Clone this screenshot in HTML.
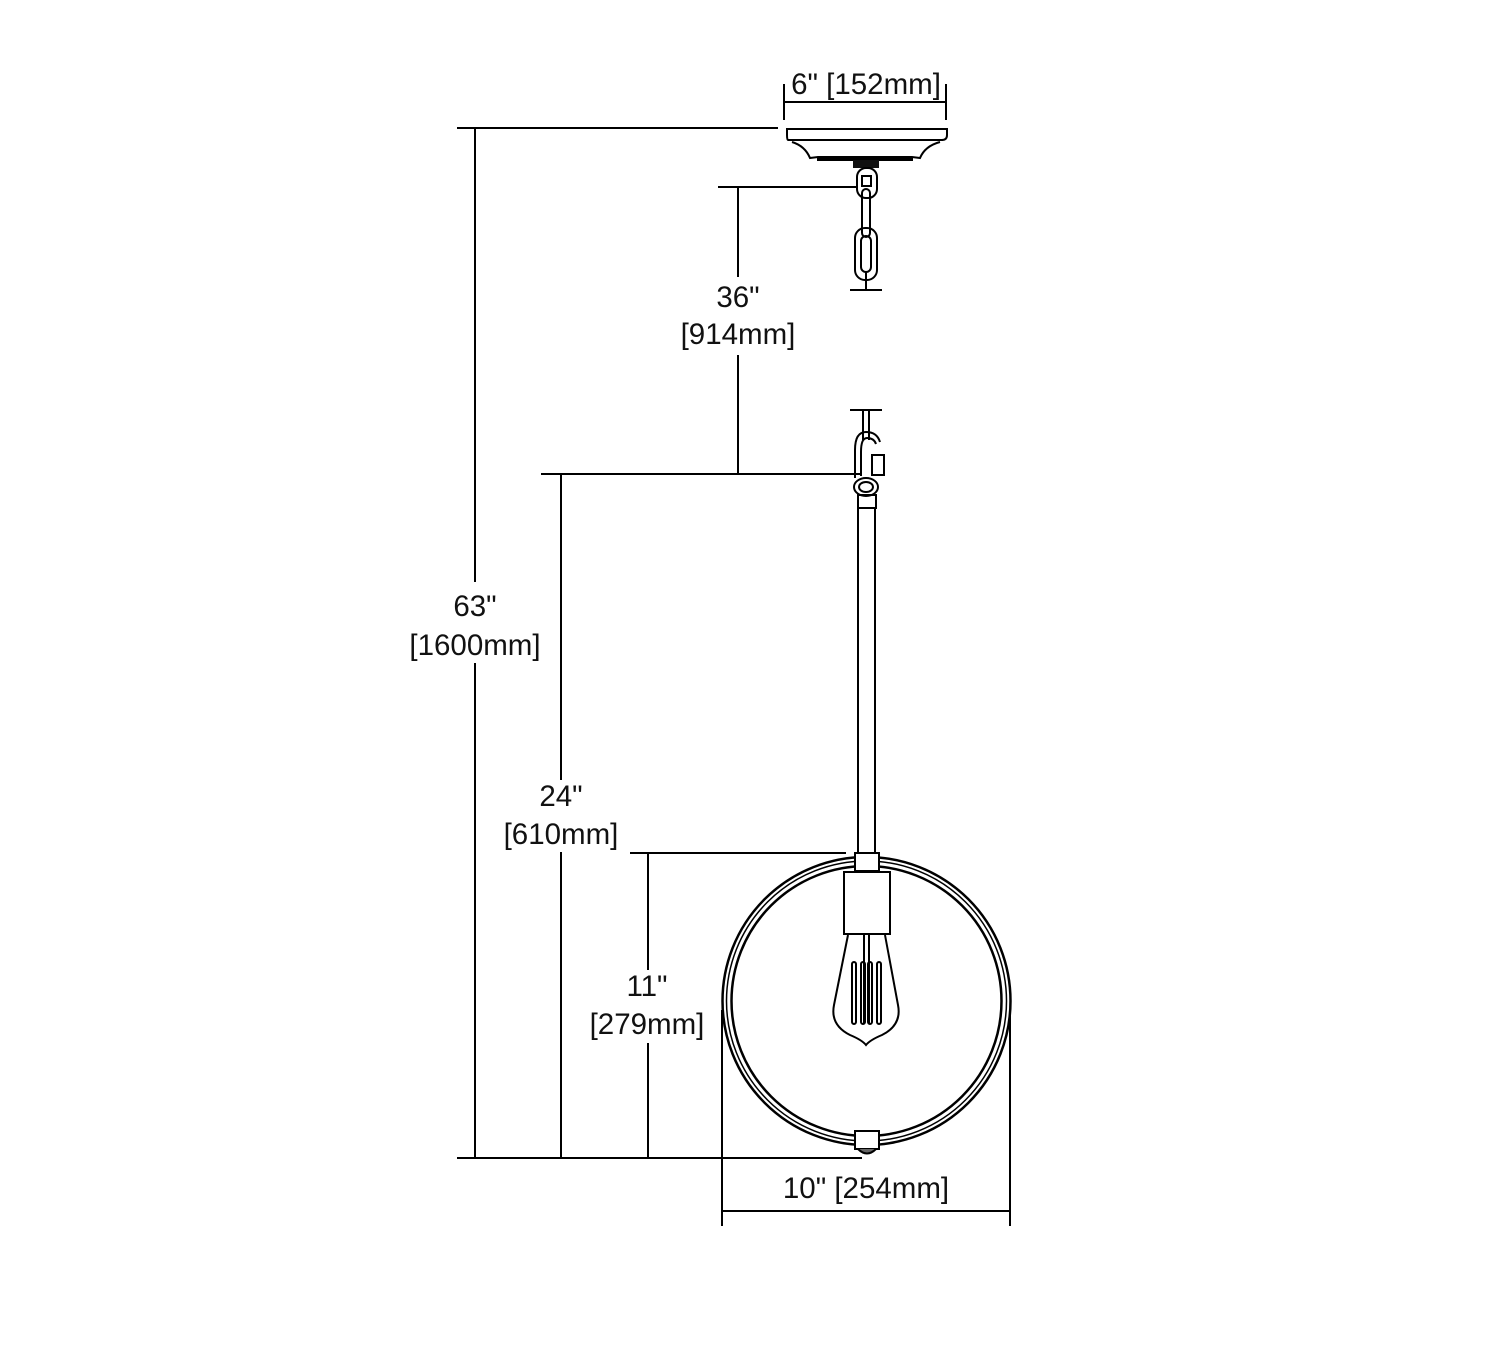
<!DOCTYPE html>
<html><head><style>
body{margin:0;background:#fff}
svg{display:block}
text{font-family:"Liberation Sans",sans-serif;font-size:29.5px;fill:#111;text-anchor:middle}
</style></head><body>
<svg width="1500" height="1365" viewBox="0 0 1500 1365" xmlns="http://www.w3.org/2000/svg">
<g stroke="#000" stroke-width="2" fill="none">
<line x1="457" y1="128" x2="778" y2="128"/>
<line x1="475" y1="128" x2="475" y2="582"/>
<line x1="475" y1="663" x2="475" y2="1158"/>
<line x1="457" y1="1158" x2="862" y2="1158"/>
<line x1="718" y1="187" x2="858" y2="187"/>
<line x1="738" y1="187" x2="738" y2="277"/>
<line x1="738" y1="355" x2="738" y2="474"/>
<line x1="541" y1="474" x2="862" y2="474"/>
<line x1="561" y1="474" x2="561" y2="780"/>
<line x1="561" y1="852" x2="561" y2="1158"/>
<line x1="630" y1="853" x2="846" y2="853"/>
<line x1="648" y1="853" x2="648" y2="970"/>
<line x1="648" y1="1043" x2="648" y2="1158"/>
<line x1="722" y1="1211" x2="1010" y2="1211"/>
<line x1="722" y1="1010" x2="722" y2="1226"/>
<line x1="1010" y1="1010" x2="1010" y2="1226"/>
<line x1="784" y1="102" x2="946" y2="102"/>
<line x1="784" y1="84" x2="784" y2="120"/>
<line x1="946" y1="84" x2="946" y2="120"/>
<path d="M787 129 H947 V135 Q947 140 942 140 H788 Q787 140 787 135 Z"/>
<line x1="790" y1="140" x2="943" y2="140"/>
<path d="M792 142 Q805 146 810 158 L818 157 H912 L920 158 Q925 146 940 142"/>
<line x1="818" y1="158" x2="912" y2="158"/>
<path d="M818 158 V160 H912 V158"/>
</g>
<rect x="853" y="160" width="26" height="8" fill="#111"/>
<g stroke="#000" stroke-width="2" fill="none">
<rect x="857" y="168" width="20" height="30" rx="9"/>
<rect x="862" y="176" width="9" height="10"/>
<rect x="862" y="189" width="8" height="48" rx="4"/>
<rect x="855" y="228" width="22" height="52" rx="10"/>
<rect x="861" y="236" width="10" height="36" rx="5"/>
<line x1="866" y1="272" x2="866" y2="290"/>
<line x1="850" y1="290" x2="882" y2="290"/>
<line x1="850" y1="410" x2="882" y2="410"/>
<line x1="863" y1="410" x2="863" y2="440"/>
<line x1="869" y1="410" x2="869" y2="440"/>
<path d="M855 478 V450 Q855 432 866 432 Q877 432 880 442"/>
<path d="M861 476 V452 Q861 438 867 438 Q874 438 876 444"/>
<rect x="872" y="455" width="12" height="20" fill="#fff"/>
<ellipse cx="866" cy="487" rx="12" ry="9"/>
<ellipse cx="866" cy="487" rx="7" ry="5"/>
<rect x="858" y="495" width="18" height="13"/>
<line x1="858" y1="508" x2="858" y2="853"/>
<line x1="875" y1="508" x2="875" y2="853"/>
<circle cx="866.5" cy="1001" r="144" stroke-width="2.5"/>
<circle cx="866.5" cy="1001" r="140" stroke-width="1.5"/>
<circle cx="866.5" cy="1001" r="135" stroke-width="2.5"/>
<rect x="855" y="853" width="24" height="18" fill="#fff"/>
<rect x="844" y="872" width="46" height="62" fill="#fff"/>
<rect x="855" y="1131" width="24" height="18" fill="#fff"/>
<path d="M858 1149 Q867 1158 876 1149" fill="#666"/>
<path d="M848 935 L834 1005 Q830 1025 850 1035 Q862 1040 866 1045 Q870 1040 882 1035 Q902 1025 898 1005 L885 935"/>
<line x1="864" y1="935" x2="864" y2="1024"/>
<line x1="869" y1="935" x2="869" y2="1024"/>
<rect x="852" y="962" width="4" height="62" rx="2"/>
<rect x="861" y="962" width="4" height="62" rx="2"/>
<rect x="868" y="962" width="4" height="62" rx="2"/>
<rect x="877" y="962" width="4" height="62" rx="2"/>
</g>
<text x="866" y="94">6" [152mm]</text>
<text x="738" y="307">36"</text>
<text x="738" y="344">[914mm]</text>
<text x="475" y="616">63"</text>
<text x="475" y="655">[1600mm]</text>
<text x="561" y="806">24"</text>
<text x="561" y="844">[610mm]</text>
<text x="647" y="996">11"</text>
<text x="647" y="1034">[279mm]</text>
<text x="866" y="1198">10" [254mm]</text>
</svg>
</body></html>
